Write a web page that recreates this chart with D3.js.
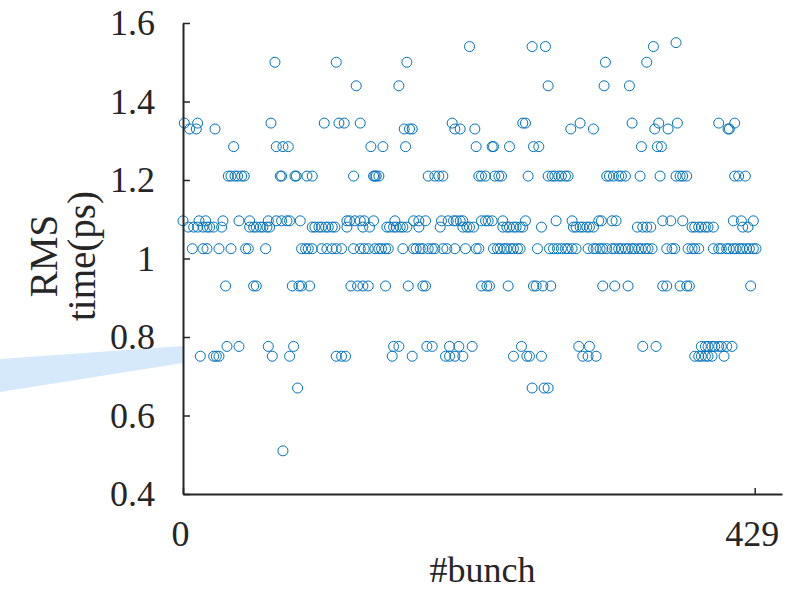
<!DOCTYPE html>
<html>
<head>
<meta charset="utf-8">
<script src="https://cdn.jsdelivr.net/npm/d3@7"></script>
<style>
  html, body { margin: 0; padding: 0; background: #fff; }
  svg { display: block; }
</style>
</head>
<body>
<svg id="chart" width="790" height="590"></svg>
<script>
// RMS time values that occur in the run (ps)
const rmsLevels = [1.55, 1.54, 1.50, 1.44, 1.345, 1.33, 1.285, 1.21, 1.096, 1.08, 1.025, 0.93, 0.776, 0.751, 0.67, 0.51];

// bunch numbers measured at each RMS level above (same order)
const bunchesAtLevel = [
  [370],
  [215, 262, 272, 353],
  [69, 115, 168, 317, 348],
  [130, 162, 274, 316, 335],
  [1, 11, 66, 106, 117, 121, 133, 202, 255, 257, 298, 337, 357, 371, 402, 414],
  [5, 10, 24, 166, 170, 172, 204, 208, 219, 291, 308, 354, 364, 409, 410],
  [38, 70, 75, 79, 141, 150, 167, 220, 232, 233, 245, 263, 267, 344, 356, 359],
  [34, 36, 39, 41, 44, 46, 73, 74, 84, 85, 93, 97, 128, 143, 144, 145, 147, 184, 189, 192, 195,
   222, 224, 227, 234, 237, 239, 259, 274, 277, 279, 282, 284, 287, 289, 318, 320, 323, 327, 329,
   332, 343, 358, 370, 373, 375, 378, 414, 417, 422],
  [0, 12, 17, 30, 42, 50, 64, 70, 74, 78, 80, 88, 123, 125, 129, 133, 136, 143, 159, 173, 177, 182,
   194, 199, 203, 205, 208, 210, 224, 227, 229, 232, 240, 257, 280, 292, 312, 314, 322, 325, 360,
   366, 375, 413, 419, 428],
  [4, 8, 11, 15, 18, 20, 23, 29, 50, 53, 55, 58, 60, 63, 65, 97, 99, 102, 104, 107, 109, 112, 114,
   123, 135, 140, 153, 155, 158, 160, 163, 165, 168, 177, 193, 210, 213, 215, 218, 240, 243, 245,
   248, 250, 253, 255, 269, 293, 295, 298, 300, 303, 305, 308, 341, 345, 348, 351, 382, 384, 387,
   389, 392, 394, 398, 420, 424],
  [7, 15, 18, 27, 36, 47, 49, 62, 89, 92, 94, 97, 104, 108, 112, 115, 119, 128, 133, 136, 139, 144,
   147, 149, 152, 154, 165, 173, 175, 178, 180, 184, 187, 189, 195, 198, 204, 212, 220, 222, 233,
   236, 238, 241, 243, 246, 248, 251, 253, 266, 275, 278, 281, 284, 287, 289, 292, 295, 304, 308,
   310, 313, 315, 318, 322, 324, 327, 329, 332, 334, 337, 339, 342, 344, 347, 349, 352, 363, 367,
   369, 379, 382, 384, 387, 398, 402, 404, 408, 410, 413, 415, 418, 420, 423, 425, 428, 430],
  [32, 53, 55, 82, 87, 89, 95, 126, 131, 135, 139, 152, 169, 180, 182, 224, 228, 230, 244, 263, 265,
   270, 276, 315, 324, 334, 360, 363, 373, 378, 380, 426],
  [33, 42, 64, 83, 158, 162, 183, 187, 200, 207, 217, 254, 297, 305, 345, 355, 389, 392, 394, 397,
   399, 402, 404, 408, 412],
  [13, 23, 25, 27, 67, 80, 115, 119, 122, 157, 172, 197, 200, 204, 210, 248, 258, 260, 269, 300, 304,
   310, 384, 387, 389, 392, 394, 397, 406],
  [86, 262, 271, 274],
  [75]
];

const xTicks = [0, 429];
const xTickLabels = ["0", "429"];
const yTicks = [0.4, 0.6, 0.8, 1.0, 1.2, 1.4, 1.6];
const yTickLabels = ["0.4", "0.6", "0.8", "1", "1.2", "1.4", "1.6"];
const xTitle = "#bunch";
const yTitleLines = ["RMS", "time(ps)"];

const points = rmsLevels.flatMap((v, i) => bunchesAtLevel[i].map(b => ({ bunch: b, rms: v })));

const ink = "#262626";
const markColor = "#0072BD";
const font = "'Liberation Serif', 'Times New Roman', serif";

const svg = d3.select("#chart");
const x = d3.scaleLinear().domain([0, 449.5]).range([183, 782]);
const y = d3.scaleLinear().domain([0.4, 1.6]).range([494, 23]);

// light-blue callout band reaching in from the left
svg.append("polygon")
  .attr("points", "0,359 183,346 183,363 0,392")
  .attr("fill", "#d5e9fb");

// scatter of RMS time per bunch
svg.append("g")
  .selectAll("circle")
  .data(points)
  .join("circle")
  .attr("cx", d => x(d.bunch))
  .attr("cy", d => y(d.rms))
  .attr("r", 5)
  .attr("fill", "none")
  .attr("stroke", markColor)
  .attr("stroke-width", 1);

// axes
const gx = svg.append("g")
  .attr("transform", `translate(0,${y(0.4)})`)
  .call(d3.axisBottom(x)
    .tickValues(xTicks)
    .tickFormat((d, i) => xTickLabels[i])
    .tickSizeInner(-6)
    .tickSizeOuter(0)
    .tickPadding(26));

const gy = svg.append("g")
  .attr("transform", `translate(${x(0)},0)`)
  .call(d3.axisLeft(y)
    .tickValues(yTicks)
    .tickFormat((d, i) => yTickLabels[i])
    .tickSizeInner(-7)
    .tickSizeOuter(0)
    .tickPadding(28));

[gx, gy].forEach(g => {
  g.select(".domain").attr("stroke", ink).attr("stroke-width", 2);
  g.selectAll(".tick line").attr("stroke", ink).attr("stroke-width", 1.5);
  g.selectAll(".tick text")
    .attr("fill", ink)
    .style("font-family", font)
    .style("font-size", "36px");
});
gx.selectAll(".tick text").attr("dx", -3);

// axis titles
svg.append("text")
  .attr("x", (x.range()[0] + x.range()[1]) / 2)
  .attr("y", 582)
  .attr("text-anchor", "middle")
  .attr("fill", ink)
  .style("font-family", font)
  .style("font-size", "36px")
  .text(xTitle);

const yTitleX = [57, 95];
yTitleLines.forEach((line, i) => {
  svg.append("text")
    .attr("transform", `translate(${yTitleX[i]},256) rotate(-90)`)
    .attr("text-anchor", "middle")
    .attr("fill", ink)
    .style("font-family", font)
    .style("font-size", "39px")
    .text(line);
});
</script>
</body>
</html>
